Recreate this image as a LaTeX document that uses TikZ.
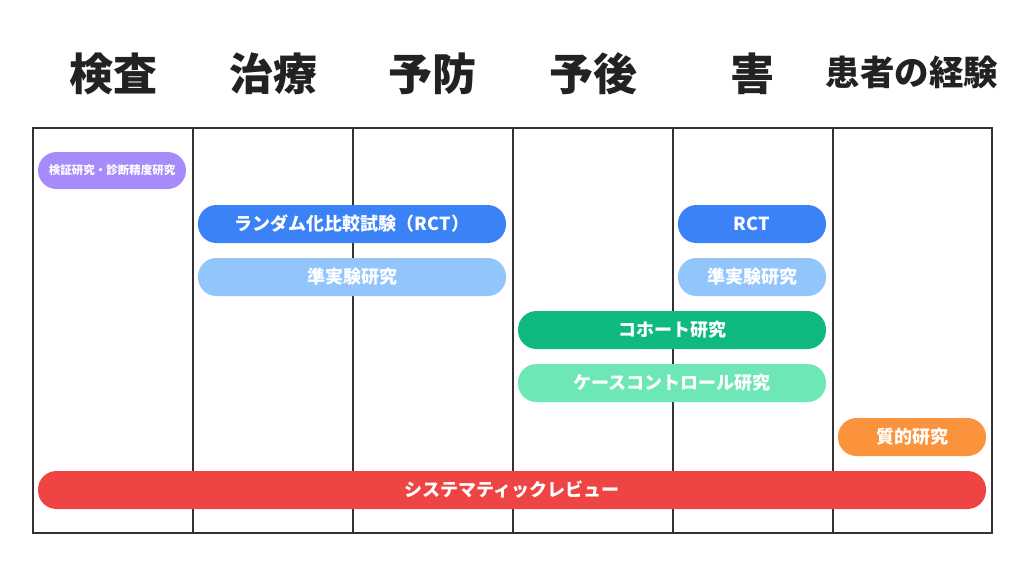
\documentclass[tikz,border=0pt]{standalone}
\usepackage{fontspec}
\setmainfont{Noto Sans CJK JP}
\definecolor{cpurple}{HTML}{A78BFA}
\definecolor{cblue}{HTML}{3B82F6}
\definecolor{clblue}{HTML}{93C5FD}
\definecolor{cgreen}{HTML}{10B981}
\definecolor{clgreen}{HTML}{6EE7B7}
\definecolor{corange}{HTML}{FB923C}
\definecolor{cred}{HTML}{EF4444}
\definecolor{cgrid}{HTML}{333333}
\definecolor{chead}{HTML}{222222}
\begin{document}
\begin{tikzpicture}[x=1pt,y=-1pt,
  gridline/.style={draw=cgrid,line width=2pt},
  head/.style={font=\fontsize{44}{48}\selectfont\bfseries,text=chead,anchor=center,inner sep=0pt},
  pill/.style={rounded corners=18.5pt,draw=none},
  pilltext/.style={text=white,font=\fontsize{18}{20}\selectfont\bfseries,anchor=center,inner sep=0pt}]
\useasboundingbox (0,0) rectangle (1024,576);
\fill[white] (0,0) rectangle (1024,576);
% headers
\node[head] (h1) at (113,74) {検査};
\node[head] (h2) at (273,74) {治療};
\node[head] (h3) at (432,74) {予防};
\node[head] (h4) at (593,74) {予後};
\node[head] (h5) at (752,74) {害};
\node[head,font=\fontsize{34.5}{38}\selectfont\bfseries] (h6) at (912,72) {患者の経験};
% grid
\draw[gridline] (33,128) rectangle (992,533);
\foreach \x in {193,353,513,673,833} \draw[gridline] (\x,128) -- (\x,533);
% pills
\fill[pill,cpurple] (38,152) rectangle (186,189);
\node[pilltext,font=\fontsize{11.5}{13}\selectfont\bfseries] (p1) at (112,170.5) {検証研究・診断精度研究};
\fill[pill,cblue] (198,205) rectangle (506,243);
\node[pilltext] (p2) at (352,224) {ランダム化比較試験（RCT）};
\fill[pill,cblue] (678,205) rectangle (826,243);
\node[pilltext] (p3) at (752,224) {RCT};
\fill[pill,clblue] (198,258) rectangle (506,296);
\node[pilltext] (p4) at (352,277) {準実験研究};
\fill[pill,clblue] (678,258) rectangle (826,296);
\node[pilltext] (p5) at (752,277) {準実験研究};
\fill[pill,cgreen] (518,311) rectangle (826,349);
\node[pilltext] (p6) at (672,330) {コホート研究};
\fill[pill,clgreen] (518,364) rectangle (826,402);
\node[pilltext] (p7) at (672,383) {ケースコントロール研究};
\fill[pill,corange] (838,418) rectangle (986,456);
\node[pilltext] (p8) at (912,437) {質的研究};
\fill[pill,cred] (38,471) rectangle (986,509);
\node[pilltext] (p9) at (512,490) {システマティックレビュー};
\end{tikzpicture}
\end{document}
